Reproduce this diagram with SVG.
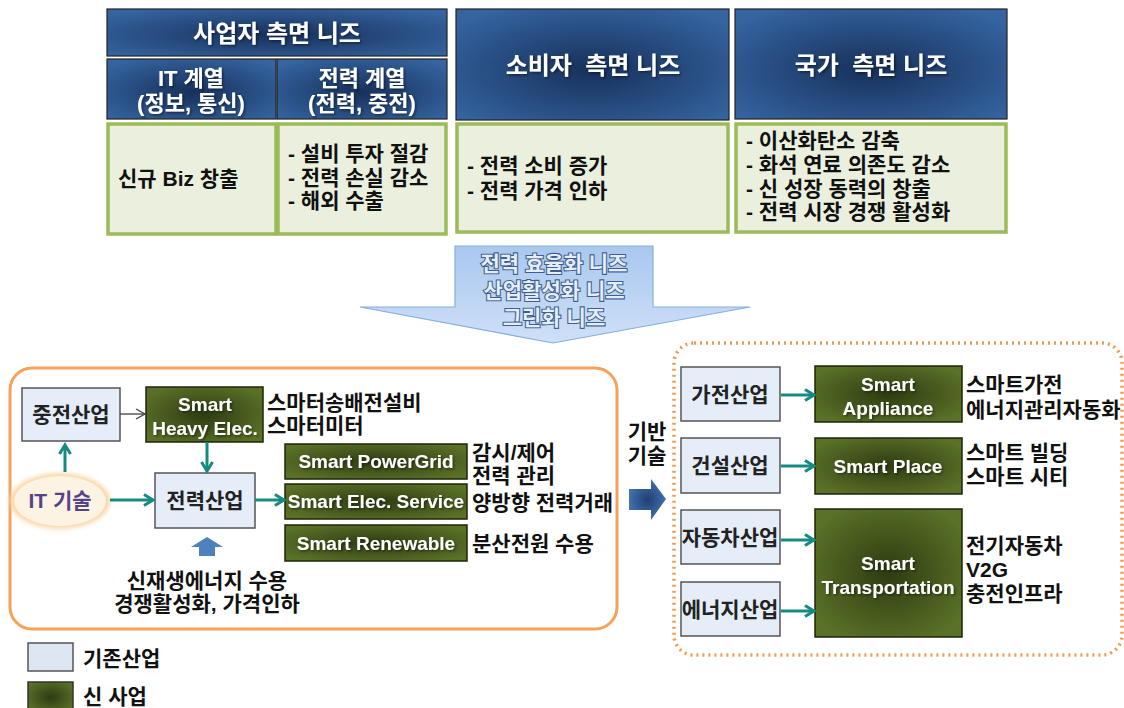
<svg xmlns="http://www.w3.org/2000/svg" width="1124" height="708" viewBox="0 0 1124 708">
<defs>
<radialGradient id="gHead" cx="50%" cy="55%" r="65%">
<stop offset="0" stop-color="#17305a"/>
<stop offset="1" stop-color="#3564a0"/>
</radialGradient>
<radialGradient id="gDark" cx="50%" cy="50%" r="60%">
<stop offset="0" stop-color="#2d3c12"/>
<stop offset="1" stop-color="#5a7127"/>
</radialGradient>
<linearGradient id="gBig" x1="0" y1="0" x2="0" y2="1">
<stop offset="0" stop-color="#a9c8ef"/>
<stop offset="1" stop-color="#cfe0f8"/>
</linearGradient>
<radialGradient id="gBlue" cx="50%" cy="50%" r="60%">
<stop offset="0" stop-color="#1f3f72"/>
<stop offset="1" stop-color="#4a7ab8"/>
</radialGradient>
<filter id="sh" x="-10%" y="-10%" width="130%" height="130%">
<feDropShadow dx="1.5" dy="1.5" stdDeviation="1" flood-color="#000" flood-opacity="0.45"/>
</filter>
<filter id="glow" x="-20%" y="-20%" width="140%" height="140%">
<feGaussianBlur stdDeviation="2"/>
</filter>
<marker id="aT" markerUnits="userSpaceOnUse" markerWidth="14" markerHeight="14" refX="11" refY="7" orient="auto">
<path d="M2,1.5 L11,7 L2,12.5" fill="none" stroke="#168a80" stroke-width="3"/>
</marker>
<marker id="aG" markerUnits="userSpaceOnUse" markerWidth="14" markerHeight="14" refX="11" refY="7" orient="auto">
<path d="M2,2 L11,7 L2,12" fill="none" stroke="#404040" stroke-width="1.3"/>
</marker>
</defs>
<style>
text{font-family:"Liberation Sans","Noto Sans CJK KR",sans-serif;font-weight:bold;}
.hd{fill:url(#gHead);stroke:#222;stroke-width:1.2;}
.ht{fill:#fff;font-size:24px;text-anchor:middle;filter:url(#sh);}
.hs{font-size:22px;}
.gb{fill:#ebf0de;stroke:#9bbb59;stroke-width:3.5;}
.bt{fill:#111;font-size:21px;}
.lb{fill:#e4edf8;stroke:#555;stroke-width:1.5;}
.lt{fill:#222;font-size:21px;text-anchor:middle;}
.dk{fill:url(#gDark);stroke:#1c2608;stroke-width:1.5;}
.dt{fill:#fff;font-size:19px;text-anchor:middle;filter:url(#sh);}
.tx{fill:#111;font-size:21px;}
.ar{stroke:#168a80;stroke-width:3;fill:none;marker-end:url(#aT);}
</style>
<rect width="1124" height="708" fill="#fff"/>

<!-- top headers -->
<g id="h-biz">
<rect class="hd" x="107" y="9" width="340" height="47"/>
<text class="ht" x="277" y="42">사업자 측면 니즈</text>
</g>
<g id="h-it">
<rect class="hd" x="107" y="59" width="169" height="60"/>
<text class="ht hs" x="191" y="86">IT 계열</text>
<text class="ht hs" x="191" y="111">(정보, 통신)</text>
</g>
<g id="h-power">
<rect class="hd" x="277" y="59" width="170" height="60"/>
<text class="ht hs" x="362" y="86">전력 계열</text>
<text class="ht hs" x="362" y="111">(전력, 중전)</text>
</g>
<g id="h-consumer">
<rect class="hd" x="456" y="9" width="273" height="111"/>
<text class="ht" x="593" y="74" xml:space="preserve">소비자  측면 니즈</text>
</g>
<g id="h-nation">
<rect class="hd" x="735" y="9" width="272" height="110"/>
<text class="ht" x="871" y="74" xml:space="preserve">국가  측면 니즈</text>
</g>

<g id="b-it">
<rect class="gb" x="108" y="124" width="168" height="110"/>
<text class="bt" x="118" y="186">신규 Biz 창출</text>
</g>
<g id="b-power">
<rect class="gb" x="278" y="124" width="168" height="110"/>
<text class="bt" x="288" y="161">- 설비 투자 절감</text>
<text class="bt" x="288" y="185">- 전력 손실 감소</text>
<text class="bt" x="288" y="208">- 해외 수출</text>
</g>
<g id="b-consumer">
<rect class="gb" x="457" y="124" width="271" height="108"/>
<text class="bt" x="467" y="173">- 전력 소비 증가</text>
<text class="bt" x="467" y="198">- 전력 가격 인하</text>
</g>
<g id="b-nation">
<rect class="gb" x="736" y="124" width="270" height="108"/>
<text class="bt" x="746" y="148">- 이산화탄소 감축</text>
<text class="bt" x="746" y="172">- 화석 연료 의존도 감소</text>
<text class="bt" x="746" y="196">- 신 성장 동력의 창출</text>
<text class="bt" x="746" y="219">- 전력 시장 경쟁 활성화</text>
</g>

<!-- big arrow -->
<g id="big-arrow">
<polygon points="455,246 653,246 653,307 750,307 553,343 360,307 455,307" fill="url(#gBig)" stroke="#86aede" stroke-width="1.2"/>
<g style="font-size:21px;text-anchor:middle;fill:#e4edf9;stroke:#3f5f8c;stroke-width:2.2;paint-order:stroke;">
<text x="554" y="271">전력 효율화 니즈</text>
<text x="554" y="298">산업활성화 니즈</text>
<text x="554" y="325">그린화 니즈</text>
</g>
</g>

<!-- left container -->
<g id="left-box">
<rect x="10" y="368" width="607" height="261" rx="22" fill="none" stroke="#f6a25a" stroke-width="3"/>
</g>
<!-- right container -->
<g id="right-box">
<rect x="674" y="343" width="448" height="312" rx="20" fill="none" stroke="#f39a4d" stroke-width="3.5" stroke-dasharray="2 4"/>
</g>

<g id="n-jungjeon">
<rect class="lb" x="22" y="388" width="98" height="53"/>
<text class="lt" x="71" y="422">중전산업</text>
</g>
<g id="n-heavy">
<rect class="dk" x="146" y="387" width="117" height="55"/>
<text class="dt" x="205" y="411">Smart</text>
<text class="dt" x="205" y="435">Heavy Elec.</text>
</g>
<text class="tx" x="267" y="410">스마터송배전설비</text>
<text class="tx" x="267" y="433">스마터미터</text>

<g id="n-it">
<ellipse cx="60" cy="501" rx="50" ry="28" fill="#fbd7a8" filter="url(#glow)"/>
<ellipse cx="60" cy="501" rx="46" ry="25" fill="#fdf3e2"/>
<text x="60" y="508" style="font-size:21px;text-anchor:middle;fill:#55438a">IT 기술</text>
</g>
<g id="n-power">
<rect class="lb" x="155" y="473" width="100" height="55"/>
<text class="lt" x="205" y="508">전력산업</text>
</g>
<g id="n-upblue">
<polygon points="207,537 223,547 215,547 215,556 199,556 199,547 191,547" fill="#4f81bd"/>
</g>
<text class="tx" x="207" y="588" text-anchor="middle">신재생에너지 수용</text>
<text class="tx" x="207" y="611" text-anchor="middle">경쟁활성화, 가격인하</text>

<g id="n-grid">
<rect class="dk" x="285" y="444" width="182" height="35"/>
<text class="dt" x="376" y="468">Smart PowerGrid</text>
</g>
<g id="n-service">
<rect class="dk" x="285" y="484" width="182" height="35"/>
<text class="dt" x="376" y="508">Smart Elec. Service</text>
</g>
<g id="n-renew">
<rect class="dk" x="285" y="525" width="182" height="36"/>
<text class="dt" x="376" y="550">Smart Renewable</text>
</g>
<text class="tx" x="472" y="460">감시/제어</text>
<text class="tx" x="472" y="483">전력 관리</text>
<text class="tx" x="472" y="510">양방향 전력거래</text>
<text class="tx" x="472" y="551">분산전원 수용</text>

<g id="n-base">
<text class="tx" x="647" y="439" text-anchor="middle">기반</text>
<text class="tx" x="647" y="463" text-anchor="middle">기술</text>
<polygon points="629,489 651,489 651,479 666,499 651,520 651,510 629,510" fill="url(#gBlue)"/>
</g>

<!-- right nodes -->
<g id="n-appl-ind">
<rect class="lb" x="681" y="367" width="99" height="54"/>
<text class="lt" x="730" y="402">가전산업</text>
</g>
<g id="n-cons-ind">
<rect class="lb" x="681" y="438" width="99" height="55"/>
<text class="lt" x="730" y="473">건설산업</text>
</g>
<g id="n-car-ind">
<rect class="lb" x="681" y="510" width="99" height="54"/>
<text class="lt" x="730" y="545">자동차산업</text>
</g>
<g id="n-energy-ind">
<rect class="lb" x="681" y="582" width="99" height="54"/>
<text class="lt" x="730" y="617">에너지산업</text>
</g>
<g id="n-appl">
<rect class="dk" x="815" y="366" width="147" height="56"/>
<text class="dt" x="888" y="391">Smart</text>
<text class="dt" x="888" y="415">Appliance</text>
</g>
<g id="n-place">
<rect class="dk" x="815" y="438" width="147" height="56"/>
<text class="dt" x="888" y="473">Smart Place</text>
</g>
<g id="n-trans">
<rect class="dk" x="815" y="509" width="147" height="128"/>
<text class="dt" x="888" y="570">Smart</text>
<text class="dt" x="888" y="594">Transportation</text>
</g>
<text class="tx" x="966" y="392">스마트가전</text>
<text class="tx" x="966" y="417">에너지관리자동화</text>
<text class="tx" x="966" y="460">스마트 빌딩</text>
<text class="tx" x="966" y="484">스마트 시티</text>
<text class="tx" x="966" y="553">전기자동차</text>
<text class="tx" x="966" y="577">V2G</text>
<text class="tx" x="966" y="601">충전인프라</text>

<!-- connectors -->
<g id="connectors">
<line x1="120" y1="414" x2="145" y2="414" stroke="#404040" stroke-width="1.3" marker-end="url(#aG)"/>
<line class="ar" x1="65" y1="472" x2="65" y2="445"/>
<line class="ar" x1="110" y1="500" x2="153" y2="500"/>
<line class="ar" x1="207" y1="442" x2="207" y2="471"/>
<line class="ar" x1="255" y1="500" x2="284" y2="500"/>
<line class="ar" x1="781" y1="395" x2="814" y2="395"/>
<line class="ar" x1="781" y1="466" x2="814" y2="466"/>
<line class="ar" x1="781" y1="540" x2="814" y2="540"/>
<line class="ar" x1="781" y1="611" x2="814" y2="611"/>
</g>

<!-- legend -->
<g id="legend">
<rect x="28" y="643" width="45" height="28" fill="#dde7f3" stroke="#555" stroke-width="1.5"/>
<text class="tx" x="83" y="666">기존산업</text>
<rect x="28" y="682" width="45" height="30" fill="url(#gDark)" stroke="#333" stroke-width="1.5"/>
<text class="tx" x="83" y="704">신 사업</text>
</g>
</svg>
